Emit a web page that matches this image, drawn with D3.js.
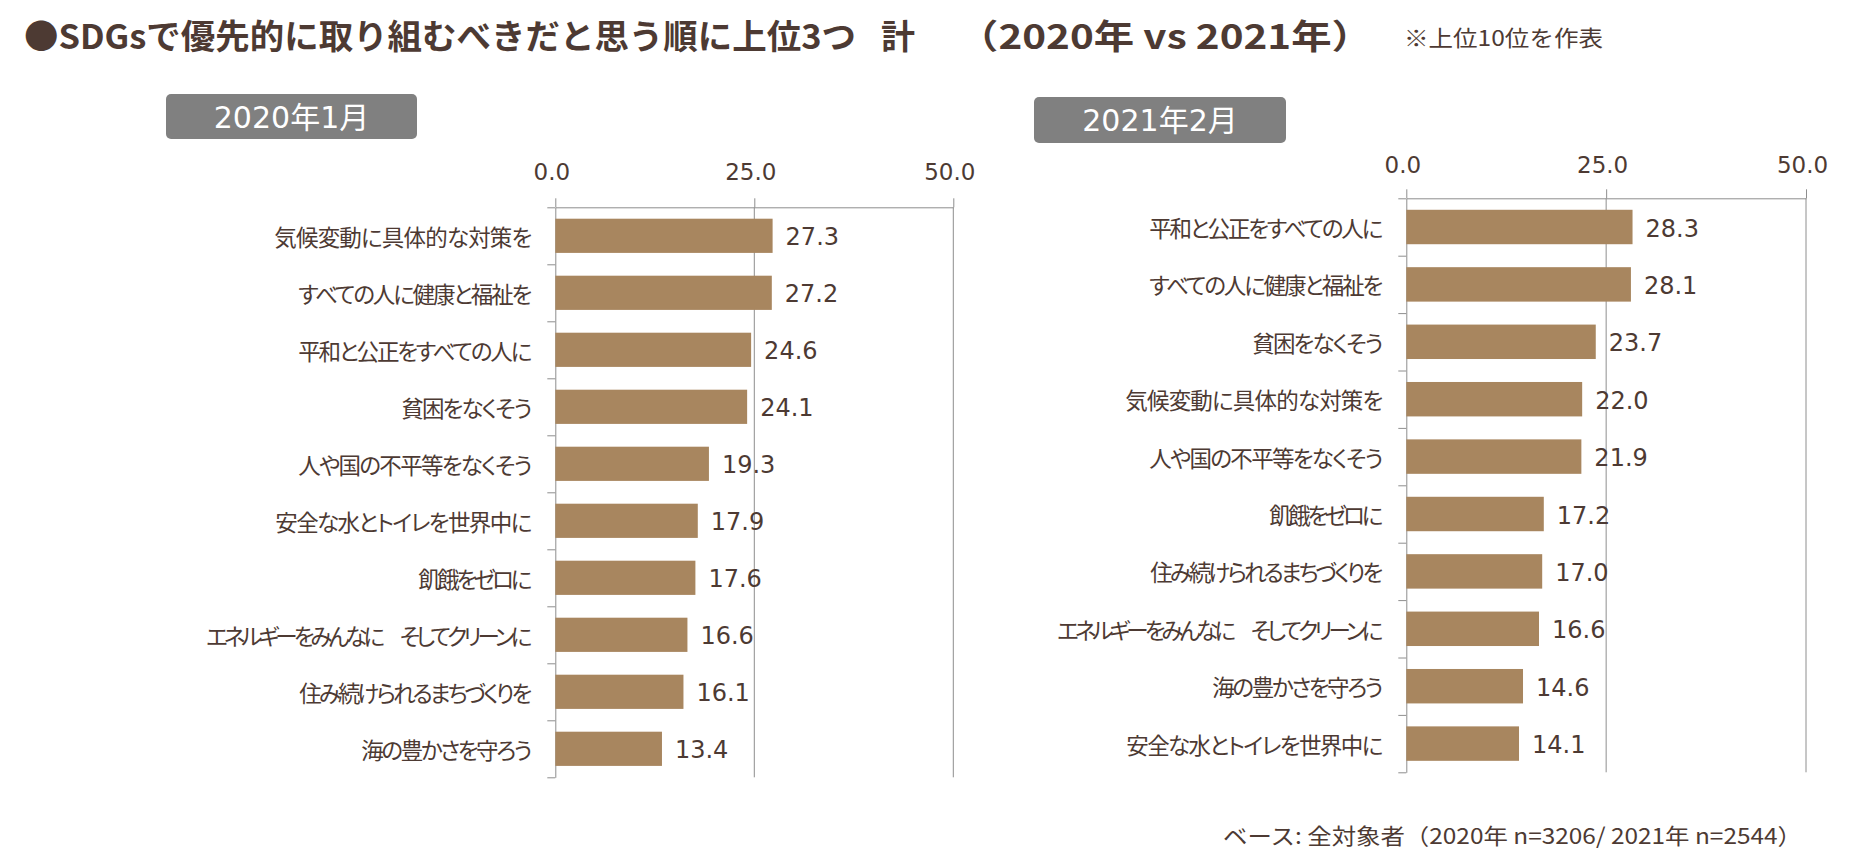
<!DOCTYPE html>
<html><head><meta charset="utf-8">
<script src="https://cdn.jsdelivr.net/npm/d3@7"></script>
<style>
body{margin:0;background:#fff;}
svg{display:block;}
.cat{font-feature-settings:"palt" 1;}
</style></head><body><svg id="chart" width="1859" height="866"></svg>
<script>
// ---- data ----
const titleMain = "●SDGsで優先的に取り組むべきだと思う順に上位3つ";
const titleMid = "計";
const titleEnd = "（2020年 vs 2021年）";
const titleNote = "※上位10位を作表";
const footnote = "ベース: 全対象者（2020年 n=3206/ 2021年 n=2544）";
const panelLabels = ["2020年1月", "2021年2月"];
const categories2020 = ["気候変動に具体的な対策を","すべての人に健康と福祉を","平和と公正をすべての人に","貧困をなくそう","人や国の不平等をなくそう","安全な水とトイレを世界中に","飢餓をゼロに","エネルギーをみんなに\u3000そしてクリーンに","住み続けられるまちづくりを","海の豊かさを守ろう"];
const values2020 = [27.3,27.2,24.6,24.1,19.3,17.9,17.6,16.6,16.1,13.4];
const categories2021 = ["平和と公正をすべての人に","すべての人に健康と福祉を","貧困をなくそう","気候変動に具体的な対策を","人や国の不平等をなくそう","飢餓をゼロに","住み続けられるまちづくりを","エネルギーをみんなに\u3000そしてクリーンに","海の豊かさを守ろう","安全な水とトイレを世界中に"];
const values2021 = [28.3,28.1,23.7,22.0,21.9,17.2,17.0,16.6,14.6,14.1];
const axisTicks = [0, 25, 50];
const xMax = 50;

// ---- style ----
const textColor = "#4d3a33";
const barColor = "#a8865f";
const lineColor = "#8e8e8e";
const cjk = "'Noto Sans CJK JP','Noto Sans CJK SC',sans-serif";
const latin = "'DejaVu Sans','Noto Sans CJK JP',sans-serif";

const svg = d3.select("#chart");

// proportional kana width model (original font has narrower kana than kanji)
function labelWidth(s){
  let w = 0;
  for (const ch of s){
    if (/[\u4e00-\u9fff]/.test(ch)) w += 23;
    else if (ch === "\u3000") w += 20;
    else w += 17;
  }
  return w;
}

// ---- title ----
function fitText(sel, len, adj){ sel.attr("textLength", len).attr("lengthAdjust", adj || "spacingAndGlyphs"); }
const t1 = svg.append("text").attr("x",24).attr("y",49).text(titleMain)
  .attr("font-family",cjk).attr("font-weight",700).attr("font-size",34).attr("fill",textColor);
fitText(t1, 832);
svg.append("text").attr("x",881).attr("y",49).text(titleMid)
  .attr("font-family",cjk).attr("font-weight",700).attr("font-size",34).attr("fill",textColor);
const t3 = svg.append("text").attr("x",958).attr("y",49).text(titleEnd)
  .attr("font-family",cjk).attr("font-weight",700).attr("font-size",34).attr("fill",textColor);
fitText(t3, 414);
const tn = svg.append("text").attr("x",1404).attr("y",46).text(titleNote)
  .attr("font-family",cjk).attr("font-size",22).attr("fill",textColor);
fitText(tn, 199);
const fn = svg.append("text").attr("x",1223).attr("y",844).text(footnote)
  .attr("font-family",cjk).attr("font-size",22).attr("fill",textColor);
fitText(fn, 579);

// ---- panels ----
const panels = [
  {x0:555.3, x1:953.3, top:207.3, bottom:777.3, box:[166,94,251,45], labelGap:35},
  {x0:1406.3, x1:1806, top:198.3, bottom:772.3, box:[1034,97,252,46], labelGap:33}
];

function drawPanel(cfg, cats, vals, label){
  const g = svg.append("g");
  const x = d3.scaleLinear().domain([0, xMax]).range([cfg.x0, cfg.x1]);
  const y = d3.scaleBand().domain(cats).range([cfg.top, cfg.bottom]).paddingInner(0.4).paddingOuter(0.2);
  const yb = d3.scaleLinear().domain([0, cats.length]).range([cfg.top, cfg.bottom]);

  // label box
  const [bx,by,bw,bh] = cfg.box;
  g.append("rect").attr("x",bx).attr("y",by).attr("width",bw).attr("height",bh).attr("rx",5).attr("fill","#808080");
  g.append("text").attr("x",bx+bw/2).attr("y",by+bh/2+11).attr("text-anchor","middle")
    .attr("font-family",latin).attr("font-size",30).attr("fill","#fff").text(label);

  // gridlines
  g.append("g").selectAll("line").data(axisTicks.filter(d=>d>0)).join("line")
    .attr("x1",d=>x(d)).attr("x2",d=>x(d)).attr("y1",cfg.top).attr("y2",cfg.bottom)
    .attr("stroke",lineColor).attr("stroke-width",1);

  // top axis
  const xa = g.append("g").attr("transform",`translate(0,${cfg.top})`)
    .call(d3.axisTop(x).tickValues(axisTicks).tickFormat(d3.format(".1f")).tickSizeInner(9).tickSizeOuter(0).tickPadding(cfg.labelGap-17));
  xa.select(".domain").attr("stroke",lineColor);
  xa.selectAll(".tick line").attr("stroke",lineColor);
  xa.selectAll(".tick text").attr("x",-4).attr("font-family",latin).attr("font-size",23).attr("fill",textColor);

  // left axis with boundary ticks
  const ya = g.append("g").attr("transform",`translate(${cfg.x0},0)`)
    .call(d3.axisLeft(yb).tickValues(d3.range(cats.length+1)).tickFormat("").tickSizeInner(8).tickSizeOuter(0));
  ya.select(".domain").attr("stroke",lineColor);
  ya.selectAll(".tick line").attr("stroke",lineColor);

  // bars
  const data = cats.map((c,i)=>({c, v: vals[i]}));
  g.append("g").selectAll("rect").data(data).join("rect")
    .attr("x",x(0)).attr("y",d=>y(d.c)).attr("width",d=>x(d.v)-x(0)).attr("height",y.bandwidth())
    .attr("fill",barColor);

  // value labels
  g.append("g").selectAll("text").data(data).join("text")
    .attr("x",d=>x(d.v)+13).attr("y",d=>y(d.c)+y.bandwidth()/2+1).attr("dy","0.36em")
    .attr("font-family",latin).attr("font-size",24).attr("fill",textColor)
    .text(d=>d3.format(".1f")(d.v));

  // category labels
  g.append("g").selectAll("text").data(data).join("text")
    .attr("class","cat")
    .attr("x",cfg.x0-23).attr("y",d=>y(d.c)+y.bandwidth()/2).attr("dominant-baseline","central")
    .attr("text-anchor","end").attr("font-family",cjk).attr("font-size",22.5)
    .attr("fill",textColor).text(d=>d.c)
    .attr("textLength",d=>labelWidth(d.c)).attr("lengthAdjust","spacing");
}

drawPanel(panels[0], categories2020, values2020, panelLabels[0]);
drawPanel(panels[1], categories2021, values2021, panelLabels[1]);
</script></body></html>
